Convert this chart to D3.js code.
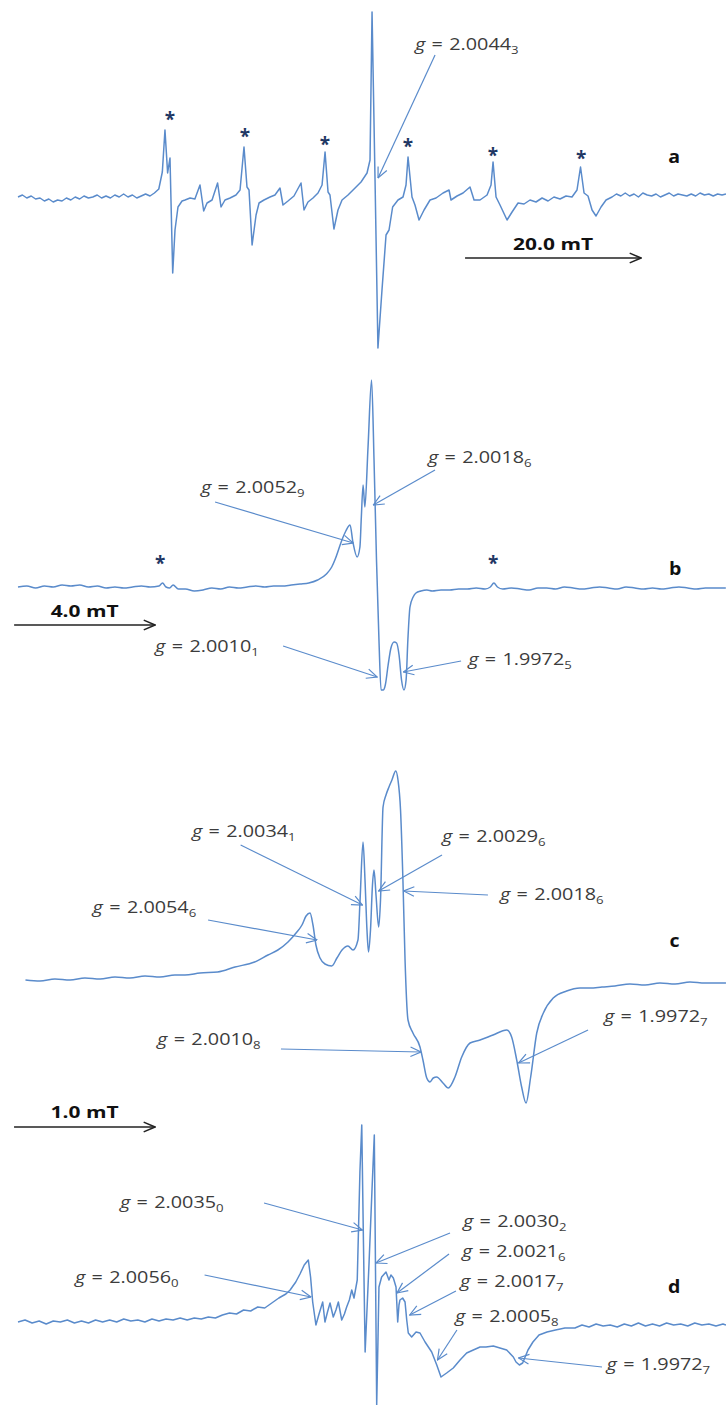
<!DOCTYPE html>
<html>
<head>
<meta charset="utf-8">
<script src="https://cdn.jsdelivr.net/npm/d3@7/dist/d3.min.js"></script>
<style>
body { margin: 0; background: #fff; }
svg { display: block; }
</style>
</head>
<body>
<div class="graph"></div>
<script>
// spectra: [field (mT from left edge), first-derivative signal (a.u.)]
var specA = [[0,0],[0.5,2],[1,-1],[1.5,1],[2,-2],[2.5,-1],[3,-4],[3.5,-2],[4,-5],[4.5,-3],[5,-4],[5.5,-1],[6,-3],[6.5,0],[7,-2],[7.5,1],[8,-1],[8.5,0],[9,2],[9.5,-1],[10,1],[10.5,-1],[11,2],[11.5,0],[12,3],[12.5,0],[13,2],[13.5,-1],[14,1],[14.5,3],[15,1],[15.5,4],[16,8],[16.4,25],[16.7,67],[17.0,24],[17.27,39],[17.58,-76],[17.84,-33],[18.18,-10],[18.64,-4],[18.98,-3],[19.55,-1],[20.1,-2],[20.68,12],[21.1,-14],[21.48,-6],[22.05,-3],[22.68,14],[23.07,-10],[23.52,-3],[24.1,-1],[24.77,2],[25.23,7],[25.68,50],[26.02,10],[26.25,7],[26.6,-48],[27.05,-18],[27.39,-6],[27.95,-3],[28.64,0],[29.2,2],[29.77,9],[30.11,-8],[30.68,-4],[31.36,1],[32.16,14],[32.5,-13],[32.95,-5],[33.52,-1],[34.09,4],[34.55,12],[34.89,45],[35.23,5],[35.45,2],[35.9,-32],[36.36,-13],[36.82,-3],[37.5,2],[38.3,9],[38.98,15],[39.66,24],[40.0,37],[40.23,185],[40.57,17],[40.9,-151],[41.36,-93],[41.82,-38],[42.16,-33],[42.57,-10],[43.18,-3],[43.75,0],[44.09,12],[44.32,40],[44.77,0],[45.11,-8],[45.57,-23],[46.14,-13],[46.82,-3],[47.5,-1],[48.3,4],[48.98,7],[49.2,-3],[49.89,1],[50.57,4],[51.36,10],[51.82,-3],[52.5,-3],[53.3,2],[53.75,12],[53.98,35],[54.32,0],[54.77,-8],[55.57,-23],[56.14,-15],[56.82,-6],[57.5,-7],[58.18,-3],[58.86,-5],[59.55,-1],[60.23,-4],[60.9,0],[61.59,-2],[62.27,1],[62.95,0],[63.52,7],[63.92,30],[64.32,4],[64.77,1],[65.23,-13],[65.68,-19],[66.25,-10],[66.82,-3],[67.5,0],[68,3],[68.5,1],[69,4],[69.5,1],[70,3],[70.5,0],[71,4],[71.5,2],[72,1],[72.5,3],[73,0],[73.5,2],[74,4],[74.5,1],[75,3],[75.5,2],[76,1],[76.5,3],[77,1],[77.5,4],[78,2],[78.5,3],[79,1],[79.5,3],[80,2],[80.45,3]];

var specB = [[0,0],[0.25,1],[0.5,-1],[0.75,1],[1,0],[1.25,2],[1.5,1],[1.75,2],[2,0],[2.25,1],[2.5,-1],[2.75,0],[3,-1],[3.25,0],[3.5,1],[3.75,0],[4.0,1],[4.1,4],[4.2,0],[4.3,-1],[4.4,2],[4.55,-2],[4.75,-2],[5,-4],[5.25,-3],[5.5,-1],[5.75,-2],[6,0],[6.25,-1],[6.5,0],[6.75,1],[7,0],[7.25,1],[7.5,1],[7.75,2],[8,3],[8.25,4],[8.5,7],[8.75,13],[8.9,20],[9.0,28],[9.1,38],[9.2,48],[9.3,56],[9.42,62],[9.5,45],[9.62,30],[9.7,40],[9.74,70],[9.79,102],[9.84,80],[9.93,140],[10.03,207],[10.1,127],[10.17,27],[10.24,-53],[10.3,-103],[10.36,-103],[10.42,-98],[10.5,-78],[10.58,-61],[10.67,-55],[10.74,-56],[10.81,-68],[10.88,-93],[10.95,-103],[11.01,-93],[11.06,-53],[11.12,-20],[11.21,-10],[11.29,-6],[11.43,-4],[11.6,-3],[11.75,-4],[12,-3],[12.25,-3],[12.5,-2],[12.75,-2],[13,-1],[13.25,-2],[13.4,0],[13.5,4],[13.6,0],[13.75,-2],[14,-1],[14.25,-2],[14.5,-3],[14.75,-1],[15,-1],[15.25,-2],[15.5,0],[15.75,-1],[16,-2],[16.25,-1],[16.5,0],[16.75,-1],[17,-2],[17.25,0],[17.5,-1],[17.75,-2],[18,-1],[18.25,-2],[18.5,-1],[18.75,0],[19,-1],[19.25,-2],[19.5,-1],[19.75,-1],[20.08,-1]];

var specC = [[0.053,0],[0.156,-1],[0.262,1],[0.369,0],[0.475,2],[0.582,1],[0.688,3],[0.794,2],[0.901,4],[1.007,3],[1.113,5],[1.184,5],[1.291,7],[1.416,8],[1.539,13],[1.678,18],[1.773,25],[1.843,30],[1.915,38],[1.972,47],[2.014,55],[2.043,64],[2.071,67],[2.092,55],[2.113,35],[2.142,22],[2.177,16],[2.225,14],[2.262,22],[2.298,30],[2.34,34],[2.376,30],[2.411,40],[2.426,80],[2.447,138],[2.461,100],[2.475,50],[2.486,28],[2.5,50],[2.514,95],[2.525,110],[2.539,85],[2.558,53],[2.571,80],[2.589,173],[2.61,185],[2.631,193],[2.652,200],[2.679,209],[2.695,200],[2.713,170],[2.73,100],[2.745,20],[2.766,-40],[2.801,-53],[2.851,-67],[2.872,-80],[2.899,-98],[2.922,-102],[2.945,-98],[2.969,-97],[3.014,-103],[3.052,-108],[3.099,-97],[3.147,-77],[3.206,-63],[3.277,-60],[3.369,-55],[3.466,-50],[3.501,-57],[3.537,-80],[3.572,-107],[3.603,-123],[3.636,-97],[3.679,-53],[3.726,-33],[3.796,-18],[3.891,-11],[3.986,-8],[4.057,-8],[4.142,-7],[4.234,-6],[4.34,-4],[4.447,-5],[4.553,-3],[4.66,-4],[4.766,-2],[4.872,-3],[5.021,-3]];

var specD = [[0,0],[0.05,2],[0.1,-1],[0.15,1],[0.2,-2],[0.25,1],[0.3,0],[0.35,2],[0.4,-1],[0.45,1],[0.5,-1],[0.55,2],[0.6,0],[0.65,2],[0.7,0],[0.75,3],[0.8,1],[0.85,2],[0.9,0],[0.95,3],[1.0,1],[1.05,3],[1.1,2],[1.15,4],[1.2,2],[1.25,4],[1.3,3],[1.35,5],[1.4,4],[1.45,7],[1.5,9],[1.55,8],[1.6,12],[1.65,11],[1.7,15],[1.75,14],[1.8,19],[1.85,24],[1.9,28],[1.93,32],[1.97,40],[2.0,48],[2.03,57],[2.059,62],[2.075,45],[2.09,20],[2.113,-3],[2.135,8],[2.161,20],[2.177,0],[2.195,10],[2.213,19],[2.236,5],[2.255,12],[2.272,20],[2.296,2],[2.315,8],[2.331,15],[2.35,22],[2.367,32],[2.383,24],[2.406,42],[2.425,150],[2.438,197],[2.45,80],[2.462,-30],[2.49,60],[2.51,130],[2.527,187],[2.535,60],[2.544,-83],[2.553,-18],[2.56,35],[2.579,45],[2.61,50],[2.631,42],[2.645,47],[2.662,44],[2.681,35],[2.693,0],[2.702,17],[2.709,22],[2.728,24],[2.745,20],[2.757,2],[2.768,-11],[2.792,-15],[2.823,-10],[2.851,-11],[2.887,-20],[2.934,-30],[2.97,-43],[3.0,-55],[3.04,-51],[3.087,-46],[3.135,-38],[3.182,-31],[3.229,-28],[3.277,-25],[3.319,-25],[3.371,-24],[3.418,-26],[3.466,-28],[3.513,-35],[3.532,-40],[3.556,-43],[3.579,-41],[3.617,-28],[3.652,-20],[3.695,-13],[3.752,-10],[3.812,-8],[3.879,-6],[3.95,-6],[4.0,-3],[4.05,-5],[4.1,-2],[4.15,-4],[4.2,-3],[4.25,-5],[4.3,-2],[4.35,-4],[4.4,-1],[4.45,-4],[4.5,-2],[4.55,-4],[4.6,-1],[4.65,-3],[4.7,-2],[4.75,-4],[4.8,-1],[4.85,-3],[4.9,-2],[4.95,-4],[5.0,-2],[5.021,-3]];

// g-value labels: [value, last (subscript) digit]
var gLabelsA = [["2.0044", "3"]];
var gLabelsB = [["2.0018", "6"], ["2.0052", "9"], ["2.0010", "1"], ["1.9972", "5"]];
var gLabelsC = [["2.0034", "1"], ["2.0029", "6"], ["2.0018", "6"], ["2.0054", "6"], ["1.9972", "7"], ["2.0010", "8"]];
var gLabelsD = [["2.0035", "0"], ["2.0030", "2"], ["2.0021", "6"], ["2.0017", "7"], ["2.0056", "0"], ["2.0005", "8"], ["1.9972", "7"]];

// scale bars (mT)
var scaleBars = ["20.0", "4.0", "1.0"];
var scaleValues = [20.0, 4.0, 1.0];

var width = 726,
    height = 1405;

var lineColor = "#5a8bcb",
    textColor = "#3c3c3c";

var svg = d3.select('.graph').append("svg")
    .attr("width", width)
    .attr("height", height);

var defs = svg.append("defs");

defs.append("marker")
    .attr("id", "head")
    .attr("viewBox", "0 0 12 12")
    .attr("refX", 11.5)
    .attr("refY", 6)
    .attr("markerWidth", 12)
    .attr("markerHeight", 12)
    .attr("markerUnits", "userSpaceOnUse")
    .attr("orient", "auto")
    .append("path")
    .attr("d", "M1,1.2 L11.5,6 L1,10.8")
    .attr("fill", "none")
    .attr("stroke", lineColor)
    .attr("stroke-width", 1.2);

defs.append("marker")
    .attr("id", "headDark")
    .attr("viewBox", "0 0 12 12")
    .attr("refX", 11.5)
    .attr("refY", 6)
    .attr("markerWidth", 13)
    .attr("markerHeight", 13)
    .attr("markerUnits", "userSpaceOnUse")
    .attr("orient", "auto")
    .append("path")
    .attr("d", "M1,1.5 L11.5,6 L1,10.5")
    .attr("fill", "none")
    .attr("stroke", "#222")
    .attr("stroke-width", 1.4);

// layout of each panel: scales, callout placement (data units), marks
var panels = [
    {
        spec: specA, letter: "a", xMax: 80.45, yDom: [-150, 185], yRange: [347, 12],
        smooth: false,
        labels: gLabelsA,
        callouts: [{ text: [45.11, 147], tail: [47.39, 142], tip: [40.91, 19] }],
        stars: [[17.27, 81], [25.8, 64], [34.89, 56], [44.32, 54], [53.98, 45], [63.98, 42]],
        letterAt: [73.9, 34],
        bar: { i: 0, start: 50.8, y: -61, textY: -53 }
    },
    {
        spec: specB, letter: "b", xMax: 20.085, yDom: [-110, 210], yRange: [697, 377],
        smooth: true,
        labels: gLabelsB,
        callouts: [
            { text: [11.63, 124], tail: [11.83, 117], tip: [10.08, 82] },
            { text: [5.19, 94], tail: [5.59, 85], tip: [9.51, 44] },
            { text: [3.89, -65], tail: [7.52, -59], tip: [10.19, -90] },
            { text: [12.77, -78], tail: [12.57, -74], tip: [10.93, -85] }
        ],
        stars: [[4.03, 27], [13.48, 27]],
        letterAt: [18.47, 12],
        bar: { i: 1, start: -0.11, y: -38, textY: -30 }
    },
    {
        spec: specC, letter: "c", xMax: 5.0213, yDom: [-130, 210], yRange: [1110, 770],
        smooth: true,
        labels: gLabelsC,
        callouts: [
            { text: [1.234, 143], tail: [1.579, 135], tip: [2.443, 75] },
            { text: [3.007, 138], tail: [3.007, 125], tip: [2.558, 89] },
            { text: [3.418, 80], tail: [3.333, 85], tip: [2.735, 89] },
            { text: [0.529, 67], tail: [1.348, 60], tip: [2.121, 40] },
            { text: [4.156, -42], tail: [4.043, -50], tip: [3.55, -83] },
            { text: [0.986, -65], tail: [1.865, -69], tip: [2.858, -72] }
        ],
        stars: [],
        letterAt: [4.62, 33],
        bar: null
    },
    {
        spec: specD, letter: "d", xMax: 5.0213, yDom: [-90, 200], yRange: [1412, 1122],
        smooth: false,
        labels: gLabelsD,
        callouts: [
            { text: [0.723, 114], tail: [1.745, 119], tip: [2.443, 92] },
            { text: [3.156, 95], tail: [3.064, 89], tip: [2.539, 59] },
            { text: [3.149, 65], tail: [3.057, 68], tip: [2.688, 29] },
            { text: [3.135, 35], tail: [3.106, 31], tip: [2.778, 7] },
            { text: [0.404, 39], tail: [1.323, 47], tip: [2.078, 25] },
            { text: [3.099, 0], tail: [3.113, -8], tip: [2.975, -38] },
            { text: [4.174, -48], tail: [4.142, -45], tip: [3.55, -36] }
        ],
        stars: [],
        letterAt: [4.61, 29],
        bar: { i: 2, start: -0.028, y: 195, textY: 204 }
    }
];

function gLabel(g, px, py, val, sub) {
    var t = g.append("text")
        .attr("transform", "translate(" + px + "," + py + ") scale(1.2,1)")
        .style("font-family", "'Open Sans', sans-serif")
        .style("font-size", "16.5px")
        .style("fill", textColor)
        .style("word-spacing", "1px");
    t.append("tspan").style("font-style", "italic").text("g");
    t.append("tspan").text(" = " + val);
    t.append("tspan")
        .attr("dy", 4)
        .style("font-size", "11px")
        .text(sub);
}

panels.forEach(function(p) {
    var x = d3.scaleLinear().domain([0, p.xMax]).range([18, 726]);
    var y = d3.scaleLinear().domain(p.yDom).range(p.yRange);

    var line = d3.line()
        .x(function(d) { return x(d[0]); })
        .y(function(d) { return y(d[1]); })
        .curve(p.smooth ? d3.curveMonotoneX : d3.curveLinear);

    var g = svg.append("g").attr("class", "panel-" + p.letter);

    g.append("path")
        .datum(p.spec)
        .attr("d", line)
        .attr("fill", "none")
        .attr("stroke", lineColor)
        .attr("stroke-width", 1.5)
        .attr("stroke-linejoin", "round");

    // callout arrows + g values
    p.callouts.forEach(function(c, i) {
        g.append("line")
            .attr("x1", x(c.tail[0]))
            .attr("y1", y(c.tail[1]))
            .attr("x2", x(c.tip[0]))
            .attr("y2", y(c.tip[1]))
            .attr("stroke", lineColor)
            .attr("stroke-width", 1.2)
            .attr("marker-end", "url(#head)");
        gLabel(g, x(c.text[0]), y(c.text[1]), p.labels[i][0], p.labels[i][1]);
    });

    g.selectAll("text.star")
        .data(p.stars)
        .enter().append("text")
        .attr("class", "star")
        .attr("x", function(d) { return x(d[0]); })
        .attr("y", function(d) { return y(d[1]) + 10; })
        .attr("text-anchor", "middle")
        .style("font-family", "'Open Sans', sans-serif")
        .style("font-weight", "bold")
        .style("font-size", "19px")
        .style("fill", "#1f3864")
        .text("*");

    g.append("text")
        .attr("transform", "translate(" + x(p.letterAt[0]) + "," + y(p.letterAt[1]) + ") scale(1.15,1)")
        .style("font-family", "'Open Sans', sans-serif")
        .style("font-weight", "bold")
        .style("font-size", "17px")
        .style("fill", "#111")
        .text(p.letter);

    if (p.bar) {
        var b = p.bar,
            len = scaleValues[b.i];
        g.append("line")
            .attr("x1", x(b.start))
            .attr("y1", y(b.y))
            .attr("x2", x(b.start + len))
            .attr("y2", y(b.y))
            .attr("stroke", "#222")
            .attr("stroke-width", 1.4)
            .attr("marker-end", "url(#headDark)");
        g.append("text")
            .attr("transform", "translate(" + x(b.start + len / 2) + "," + y(b.textY) + ") scale(1.35,1)")
            .attr("text-anchor", "middle")
            .style("font-family", "'Open Sans', sans-serif")
            .style("font-weight", "bold")
            .style("font-size", "15.5px")
            .style("fill", "#111")
            .text(scaleBars[b.i] + " mT");
    }
});
</script>
</body>
</html>
